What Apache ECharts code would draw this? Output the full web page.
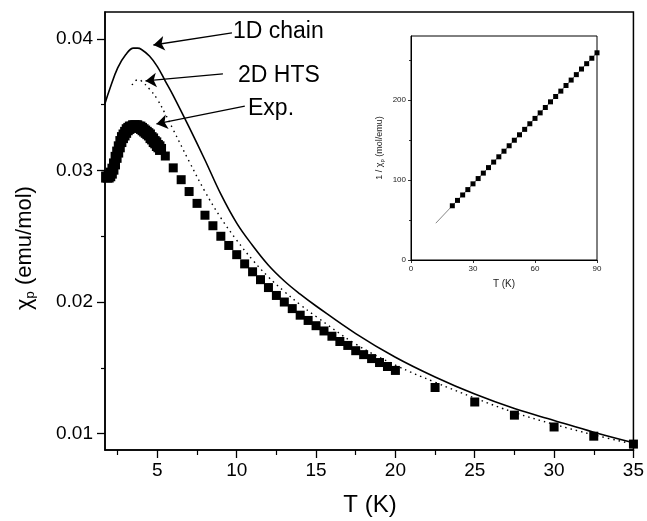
<!DOCTYPE html>
<html><head><meta charset="utf-8">
<script src="https://cdn.jsdelivr.net/npm/echarts@6/dist/echarts.min.js"></script>
<style>html,body{margin:0;padding:0;background:#fff}#c{width:647px;height:521px}</style>
</head><body><div id="c"></div>
<script>
// ---- main panel data ----
const expT = [1.8,1.9,2.0,2.1,2.2,2.3,2.4,2.5,2.6,2.7,2.8,2.9,3.0,3.1,3.2,3.3,3.4,3.5,3.6,3.7,3.8,3.9,4.0,4.1,4.2,4.3,4.4,4.5,4.6,4.7,4.8,4.9,5.0,5.1,5.2,
  5.5,6.0,6.5,7.0,7.5,8.0,8.5,9.0,9.5,10.0,10.5,11.0,11.5,12.0,12.5,13.0,13.5,14.0,14.5,15.0,15.5,16.0,16.5,17.0,17.5,18.0,18.5,19.0,19.5,20.0,
  22.5,25.0,27.5,30.0,32.5,35.0];
const expChi = [0.0295,0.0295,0.0296,0.0298,0.0301,0.0305,0.0310,0.0314,0.0318,0.0322,0.0325,0.0327,0.0329,0.0331,0.0332,0.0333,0.0333,0.0334,0.0334,0.0334,0.0333,0.0333,0.0332,0.0331,0.0330,0.0329,0.0328,0.0327,0.0325,0.0324,0.0322,0.0321,0.0319,0.0318,0.0316,
  0.0311,0.0302,0.0293,0.0284,0.0275,0.0266,0.0258,0.0250,0.0243,0.0236,0.0229,0.0223,0.0217,0.0211,0.0205,0.0200,0.0195,0.0190,0.0186,0.0182,0.0178,0.0174,0.0170,0.0167,0.0163,0.0160,0.0157,0.0154,0.0151,0.0148,
  0.0135,0.0124,0.0114,0.0105,0.0098,0.0092];

const chainT = [1.7,2.0,2.5,3.0,3.5,3.75,4.0,4.5,5.0,5.5,6.0,7.0,8.0,9.0,10.0,11.0,12.0,13.0,14.0,15.0,17.5,20.0,22.5,25.0,27.5,30.0,32.5,35.0];
const chainChi = [0.0351,0.0362,0.0378,0.0388,0.0393,0.0393,0.0392,0.0387,0.0379,0.0368,0.0357,0.0333,0.0308,0.0282,0.0260,0.0243,0.0228,0.0216,0.0206,0.0197,0.0176,0.0158,0.0143,0.0130,0.0119,0.0110,0.0101,0.0093];

const htsT = [3.4,3.6,3.8,4.0,4.5,5.0,5.5,6.0,7.0,8.0,9.0,10.0,11.0,12.0,13.0,14.0,15.0,17.5,20.0,22.5,25.0,27.5,30.0,32.5,35.0];
const htsChi = [0.0365,0.0368,0.0369,0.0368,0.0362,0.0354,0.0343,0.0331,0.0307,0.0284,0.0264,0.0247,0.0232,0.0219,0.0208,0.0198,0.0189,0.0168,0.0152,0.0139,0.0127,0.0116,0.0107,0.0099,0.0092];

const mainXTicks = [5,10,15,20,25,30,35];
const mainXMinor = [2.5,7.5,12.5,17.5,22.5,27.5,32.5];
const mainYTicks = [0.01,0.02,0.03,0.04];
const mainYMinor = [0.015,0.025,0.035];

// ---- inset data ----
const insetT = [20,22.5,25,27.5,30,32.5,35,37.5,40,42.5,45,47.5,50,52.5,55,57.5,60,62.5,65,67.5,70,72.5,75,77.5,80,82.5,85,87.5,90];
const insetInv = [67.8,74.5,81.3,88.0,95.2,101.8,108.6,115.5,122.4,129.0,136.0,142.8,149.7,156.5,163.3,170.3,177.0,183.9,190.6,197.7,204.4,211.1,218.1,224.9,231.7,238.7,245.4,252.2,259.0];
const fitT = [12,90];
const fitInv = [46,259.2];
const insetXTicks = [0,30,60,90];
const insetYTicks = [0,100,200];
const insetYMinor = [50,150,250];

const zip = (a,b) => a.map((v,i)=>[v,b[i]]);
const FONT = 'Liberation Sans, Arial, sans-serif';

const chart = echarts.init(document.getElementById('c'), null, {renderer:'canvas'});
const axisBase = {
  axisLine:{show:true, onZero:false, lineStyle:{color:'#000', width:1.5}},
  splitLine:{show:false}
};
chart.setOption({
  backgroundColor:'#fff',
  animation:false,
  grid:[
    {left:105, top:12, width:531, height:438, show:true, borderColor:'#000', borderWidth:1.5, backgroundColor:'transparent'},
    {left:411, top:36, width:186, height:224, show:true, borderColor:'#000', borderWidth:1, backgroundColor:'#fff'}
  ],
  xAxis:[
    Object.assign({}, axisBase, {type:'value', gridIndex:0, position:'bottom', min:1.7, max:35,
      axisTick:{show:true, inside:false, length:8, customValues:mainXTicks, lineStyle:{color:'#000', width:1.3}},
      axisLabel:{customValues:mainXTicks, color:'#000', fontSize:19, fontFamily:FONT, margin:11}}),
    {type:'value', gridIndex:0, position:'bottom', min:1.7, max:35, axisLine:{show:false, onZero:false}, splitLine:{show:false},
      axisTick:{show:true, length:5, customValues:mainXMinor, lineStyle:{color:'#000', width:1.2}},
      axisLabel:{show:false}},
    Object.assign({}, axisBase, {type:'value', gridIndex:1, position:'bottom', min:0, max:90, interval:30,
      axisLine:{show:true, onZero:false, lineStyle:{color:'#000', width:1}},
      axisTick:{show:true, length:3, lineStyle:{color:'#000', width:0.8}},
      axisLabel:{color:'#222', fontSize:8, fontFamily:FONT, margin:5}})
  ],
  yAxis:[
    Object.assign({}, axisBase, {type:'value', gridIndex:0, position:'left', min:0.00875, max:0.04205,
      axisTick:{show:true, length:8, customValues:mainYTicks, lineStyle:{color:'#000', width:1.3}},
      axisLabel:{customValues:mainYTicks, color:'#000', fontSize:19, fontFamily:FONT, margin:12,
        formatter:v=>v.toFixed(2)}}),
    {type:'value', gridIndex:0, position:'left', min:0.00875, max:0.04205, axisLine:{show:false, onZero:false}, splitLine:{show:false},
      axisTick:{show:true, length:4, customValues:mainYMinor, lineStyle:{color:'#000', width:1.2}},
      axisLabel:{show:false}},
    Object.assign({}, axisBase, {type:'value', gridIndex:1, position:'left', min:0, max:280,
      axisLine:{show:true, onZero:false, lineStyle:{color:'#000', width:1}},
      axisTick:{show:true, length:3, customValues:insetYTicks, lineStyle:{color:'#000', width:0.8}},
      axisLabel:{customValues:insetYTicks, color:'#222', fontSize:8, fontFamily:FONT, margin:5}}),
    {type:'value', gridIndex:1, position:'left', min:0, max:280, axisLine:{show:false, onZero:false}, splitLine:{show:false},
      axisTick:{show:true, length:2, customValues:insetYMinor, lineStyle:{color:'#000', width:0.8}},
      axisLabel:{show:false}}
  ],
  series:[
    {type:'line', name:'1D chain', xAxisIndex:0, yAxisIndex:0, data:zip(chainT,chainChi), smooth:0.4,
      showSymbol:false, lineStyle:{color:'#000', width:1.6}, z:3,
      markLine:{silent:true, symbol:['none','arrow'], symbolSize:11, label:{show:false},
        lineStyle:{color:'#000', width:1.3, type:'solid'},
        data:[
          [{coord:[9.70,0.04046]},{coord:[4.75,0.03954]}],
          [{coord:[9.13,0.03734]},{coord:[4.25,0.03681]}],
          [{coord:[10.51,0.0349]},{coord:[4.94,0.03354]}]
        ]}},
    {type:'line', name:'2D HTS', xAxisIndex:0, yAxisIndex:0, data:zip(htsT,htsChi), smooth:0.4,
      showSymbol:false, lineStyle:{color:'#000', width:1.4, type:[1.5,4]}, z:3},
    {type:'scatter', name:'Exp.', xAxisIndex:0, yAxisIndex:0, data:zip(expT,expChi),
      symbol:'rect', symbolSize:v => (v[0] <= 5.2 ? 11 : 9), itemStyle:{color:'#000', opacity:1}, z:4},
    {type:'line', name:'fit', xAxisIndex:2, yAxisIndex:2, data:zip(fitT,fitInv),
      showSymbol:false, lineStyle:{color:'#777', width:0.9}, z:5},
    {type:'scatter', name:'inset', xAxisIndex:2, yAxisIndex:2, data:zip(insetT,insetInv),
      symbol:'rect', symbolSize:5, itemStyle:{color:'#000', opacity:1}, z:6}
  ],
  graphic:[
    {type:'text', left:233, top:20, z:10, style:{text:'1D chain', font:'23px '+FONT, fill:'#000'}},
    {type:'text', left:238, top:64, z:10, style:{text:'2D HTS', font:'23px '+FONT, fill:'#000'}},
    {type:'text', left:248, top:97, z:10, style:{text:'Exp.', font:'23px '+FONT, fill:'#000'}},
    {type:'text', x:370, y:505, z:10, style:{text:'T (K)', font:'24px '+FONT, fill:'#000', align:'center', verticalAlign:'middle'}},
    {type:'text', x:25, y:248, rotation:Math.PI/2, z:10,
      style:{text:'{a|χ}{b|p} (emu/mol)', align:'center', verticalAlign:'middle', fill:'#000',
        rich:{a:{font:'22px '+FONT, fill:'#000'}, b:{font:'13px '+FONT, fill:'#000', padding:[10,0,0,0]}},
        font:'22px '+FONT}},
    {type:'text', x:504, y:284, z:10, style:{text:'T (K)', font:'10px '+FONT, fill:'#222', align:'center', verticalAlign:'middle'}},
    {type:'text', x:380, y:148, rotation:Math.PI/2, z:10,
      style:{text:'{a|1 / χ}{b|p} (mol/emu)', align:'center', verticalAlign:'middle', fill:'#222',
        rich:{a:{font:'9px '+FONT, fill:'#222'}, b:{font:'6px '+FONT, fill:'#222', padding:[4,0,0,0]}},
        font:'9px '+FONT}}
  ]
});
</script></body></html>
